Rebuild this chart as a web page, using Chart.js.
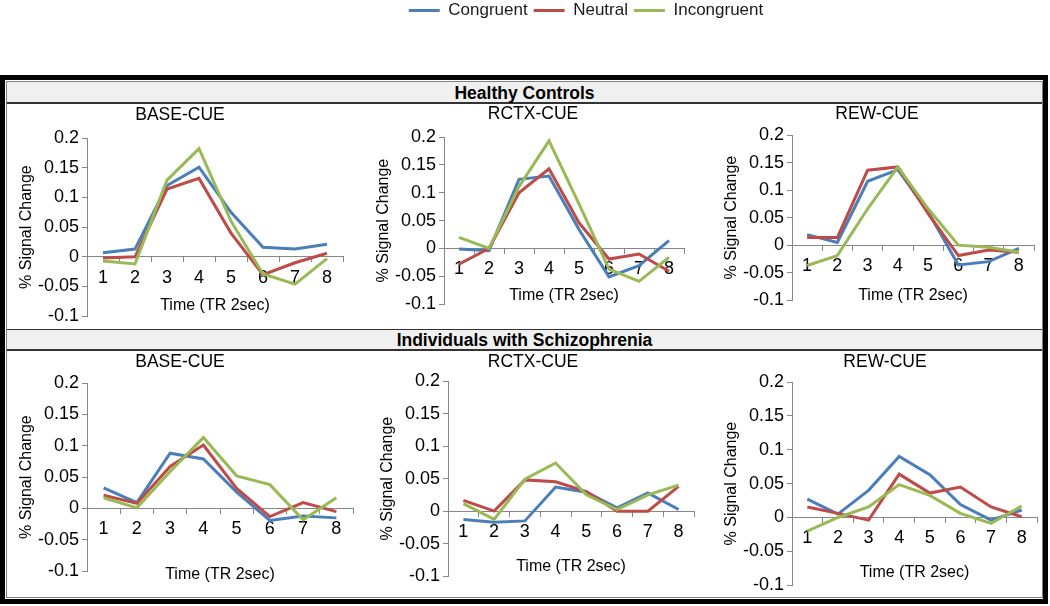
<!DOCTYPE html>
<html>
<head>
<meta charset="utf-8">
<script src="https://cdn.jsdelivr.net/npm/chart.js@4.4.0/dist/chart.umd.min.js"></script>
<style>
  html, body { margin: 0; padding: 0; background: #fff; }
  body { width: 1050px; height: 606px; position: relative; overflow: hidden; font-family: 'Liberation Sans', Arial, sans-serif; }
  .abs { position: absolute; box-sizing: border-box; }
  #frameOuter { left: 0; top: 75px; width: 1048px; height: 529px; border: 5px solid #000; }
  #frameInner { left: 6px; top: 81px; width: 1037px; height: 517px; border: 1px solid #7f7f7f; }
  .band { left: 7px; width: 1035px; background: #f0f0f0; font-weight: bold; font-size: 17.5px; text-align: center; color: #000; }
  #band1 { top: 82px; height: 22px; line-height: 22px; border-bottom: 2px solid #333; }
  #band2 { top: 329px; height: 22px; line-height: 20px; border-top: 1px solid #333; border-bottom: 2px solid #333; }
  canvas { position: absolute; }
</style>
</head>
<body>
<div id="frameOuter" class="abs"></div>
<div id="frameInner" class="abs"></div>
<div id="band1" class="abs band">Healthy Controls</div>
<div id="band2" class="abs band">Individuals with Schizophrenia</div>
<script>
// time points and y ticks
const timePoints = ['1', '2', '3', '4', '5', '6', '7', '8'];
const yTicks = [-0.1, -0.05, 0, 0.05, 0.1, 0.15, 0.2];
const seriesNames = ['Congruent', 'Neutral', 'Incongruent'];

// Healthy controls
const hcBaseCongruent   = [0.007, 0.013, 0.12, 0.151, 0.075, 0.016, 0.013, 0.021];
const hcBaseNeutral     = [-0.002, 0.0, 0.114, 0.132, 0.04, -0.03, -0.01, 0.006];
const hcBaseIncongruent = [-0.007, -0.012, 0.129, 0.182, 0.06, -0.029, -0.046, -0.003];

const hcRctxCongruent   = [-0.001, -0.004, 0.124, 0.13, 0.034, -0.051, -0.031, 0.014];
const hcRctxNeutral     = [-0.028, 0.0, 0.1, 0.143, 0.046, -0.019, -0.01, -0.041];
const hcRctxIncongruent = [0.02, 0.0, 0.111, 0.193, 0.08, -0.037, -0.059, -0.016];

const hcRewCongruent   = [0.019, 0.005, 0.116, 0.137, 0.06, -0.036, -0.03, -0.006];
const hcRewNeutral     = [0.014, 0.014, 0.136, 0.142, 0.057, -0.019, -0.009, -0.013];
const hcRewIncongruent = [-0.037, -0.019, 0.066, 0.142, 0.066, 0.0, -0.004, -0.013];

// Individuals with schizophrenia
const szBaseCongruent   = [0.033, 0.0095, 0.088, 0.079, 0.026, -0.019, -0.012, -0.015];
const szBaseNeutral     = [0.021, 0.008, 0.067, 0.101, 0.032, -0.013, 0.0095, -0.005];
const szBaseIncongruent = [0.017, 0.001, 0.059, 0.113, 0.052, 0.038, -0.018, 0.017];

const szRctxCongruent   = [-0.013, -0.017, -0.015, 0.037, 0.029, 0.005, 0.028, 0.0025];
const szRctxNeutral     = [0.0166, 0.0, 0.048, 0.045, 0.03, 0.0, 0.0, 0.038];
const szRctxIncongruent = [0.0116, -0.0126, 0.049, 0.074, 0.025, 0.0025, 0.025, 0.04];

const szRewCongruent   = [0.027, 0.005, 0.04, 0.09, 0.063, 0.019, -0.004, 0.011];
const szRewNeutral     = [0.0155, 0.006, -0.004, 0.064, 0.036, 0.045, 0.0155, 0.001];
const szRewIncongruent = [-0.02, 0.0, 0.0155, 0.0485, 0.0325, 0.006, -0.0087, 0.017];

const panels = [
  { title: 'BASE-CUE', series: [hcBaseCongruent, hcBaseNeutral, hcBaseIncongruent] },
  { title: 'RCTX-CUE', series: [hcRctxCongruent, hcRctxNeutral, hcRctxIncongruent] },
  { title: 'REW-CUE',  series: [hcRewCongruent, hcRewNeutral, hcRewIncongruent] },
  { title: 'BASE-CUE', series: [szBaseCongruent, szBaseNeutral, szBaseIncongruent] },
  { title: 'RCTX-CUE', series: [szRctxCongruent, szRctxNeutral, szRctxIncongruent] },
  { title: 'REW-CUE',  series: [szRewCongruent, szRewNeutral, szRewIncongruent] }
];

// where each plot sits on the page (plot area edges, title centre, x title centre)
const panelBoxes = [
  { l: 87,  r: 343,  t: 138, b: 318, tx: 180, ty: 115, xty: 307 },
  { l: 444, r: 684,  t: 137, b: 306, tx: 533, ty: 114, xty: 297 },
  { l: 792, r: 1034, t: 135, b: 302, tx: 877, ty: 114, xty: 297 },
  { l: 87,  r: 353,  t: 383, b: 573, tx: 180, ty: 362, xty: 576 },
  { l: 448, r: 694,  t: 381, b: 578, tx: 533, ty: 362, xty: 568 },
  { l: 792, r: 1037, t: 382, b: 587, tx: 885, ty: 362, xty: 574 }
];

const seriesColors = ['#4A7EBB', '#BE4B48', '#98B954'];
const axisGray = '#868686';
const FONT = "'Liberation Sans', Arial, sans-serif";
const tickSize = 18, titleSize = 17.5, axisTitleSize = 16;

function addCanvas(x, y, w, h) {
  const c = document.createElement('canvas');
  c.width = w; c.height = h;
  c.style.left = x + 'px'; c.style.top = y + 'px';
  c.style.width = w + 'px'; c.style.height = h + 'px';
  document.body.appendChild(c);
  return c;
}

panels.forEach((p, idx) => {
  const box = panelBoxes[idx];
  const yWidth = box.l + box.r - 2 * box.tx;   // y axis box width so the title centres right
  const cx = box.l - 95;
  const titleLH = titleSize * 1.2, axisLH = axisTitleSize * 1.2;
  const cy = Math.floor(box.ty - titleLH / 2 - 2);
  const cw = box.r + 6 - cx;
  const ch = box.b + 12 - cy;
  const zeroY = box.t + (2 / 3) * (box.b - box.t);

  const canvas = addCanvas(cx, cy, cw, ch);
  new Chart(canvas, {
    type: 'line',
    data: {
      labels: timePoints,
      datasets: p.series.map((vals, i) => ({
        label: seriesNames[i],
        data: vals,
        borderColor: seriesColors[i],
        backgroundColor: seriesColors[i],
        borderWidth: 3,
        pointRadius: 0,
        tension: 0,
        fill: false,
        order: 2 - i
      }))
    },
    options: {
      responsive: false,
      animation: false,
      devicePixelRatio: 1,
      layout: {
        padding: { left: 95 - yWidth, right: 6, top: box.ty - titleLH / 2 - cy, bottom: 12 }
      },
      plugins: {
        legend: { display: false },
        tooltip: { enabled: false },
        title: {
          display: true,
          text: p.title,
          color: '#000',
          font: { family: FONT, size: titleSize, weight: 'normal' },
          padding: { top: 0, bottom: box.t - (box.ty + titleLH / 2) }
        }
      },
      scales: {
        x: {
          type: 'category',
          position: { y: 0 },
          offset: true,
          afterFit: (s) => { s.height = 0; },
          grid: { display: true, drawOnChartArea: false, drawTicks: true, tickLength: 5, color: axisGray, offset: true },
          border: { display: true, color: axisGray, width: 1 },
          ticks: { color: '#000', padding: 5, maxRotation: 0, autoSkip: false, font: { family: FONT, size: tickSize } },
          title: {
            display: true,
            text: 'Time (TR 2sec)',
            color: '#000',
            font: { family: FONT, size: axisTitleSize },
            padding: { top: 0, bottom: -(box.xty - zeroY) - axisLH / 2 }
          }
        },
        y: {
          type: 'linear',
          position: 'left',
          min: -0.1,
          max: 0.2,
          afterBuildTicks: (s) => { s.ticks = yTicks.map(v => ({ value: v })); },
          afterFit: (s) => { s.width = yWidth; },
          grid: { display: true, drawOnChartArea: false, drawTicks: true, tickLength: 5, color: axisGray },
          border: { display: true, color: axisGray, width: 1 },
          ticks: {
            color: '#000', padding: 3, autoSkip: false,
            font: { family: FONT, size: tickSize },
            callback: (v) => String(+Number(v).toFixed(2))
          },
          title: {
            display: true,
            text: '% Signal Change',
            color: '#000',
            font: { family: FONT, size: axisTitleSize },
            padding: { top: yWidth - 60 - axisLH / 2, bottom: 0 }
          }
        }
      }
    }
  });
});

// shared legend on top
const legendCanvas = addCanvas(0, -4, 1050, 76);
new Chart(legendCanvas, {
  type: 'line',
  data: {
    labels: [],
    datasets: seriesNames.map((n, i) => ({
      label: n, data: [], borderColor: seriesColors[i], backgroundColor: seriesColors[i], borderWidth: 0
    }))
  },
  options: {
    responsive: false,
    animation: false,
    devicePixelRatio: 1,
    layout: { padding: { left: 122 } },
    scales: { x: { display: false }, y: { display: false } },
    plugins: {
      tooltip: { enabled: false },
      legend: {
        display: true,
        position: 'top',
        labels: { boxWidth: 31, boxHeight: 3, padding: 6, color: '#1a1a1a', font: { family: FONT, size: 17 } }
      }
    }
  }
});
</script>
</body>
</html>
